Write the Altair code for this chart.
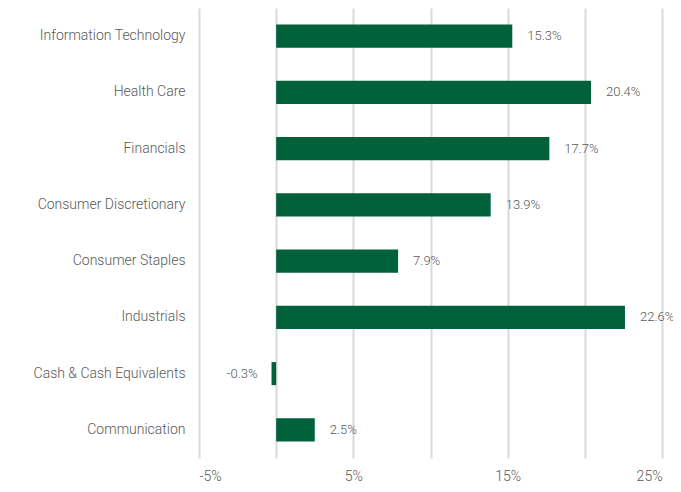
import altair as alt
import pandas as pd

sectors = [
    "Information Technology",
    "Health Care",
    "Financials",
    "Consumer Discretionary",
    "Consumer Staples",
    "Industrials",
    "Cash & Cash Equivalents",
    "Communication",
]
values = [15.3, 20.4, 17.7, 13.9, 7.9, 22.6, -0.3, 2.5]
labels = ["15.3%", "20.4%", "17.7%", "13.9%", "7.9%", "22.6%", "-0.3%", "2.5%"]

df = pd.DataFrame({"sector": sectors, "value": values, "label": labels})

FONT = "Roboto"
GRAY = "#595959"

x = alt.X(
    "value:Q",
    scale=alt.Scale(domain=[-5, 25], nice=False),
    axis=alt.Axis(
        values=[-5, 0, 5, 10, 15, 20, 25],
        labelExpr="(datum.value % 10 == 0) ? '' : datum.value + '%'",
        title=None,
        domain=False,
        ticks=False,
        grid=True,
        gridColor="#d9d9d9",
        gridWidth=2,
        labelFont=FONT,
        labelFontSize=14,
        labelFontWeight=300,
        labelColor=GRAY,
        labelPadding=11,
    ),
)
y = alt.Y(
    "sector:N",
    sort=sectors,
    scale=alt.Scale(paddingInner=0.59, paddingOuter=0.295),
    axis=alt.Axis(
        title=None,
        domain=False,
        ticks=False,
        grid=False,
        labelFont=FONT,
        labelFontSize=14,
        labelFontWeight=300,
        labelColor=GRAY,
        labelPadding=14,
        labelLimit=300,
    ),
)

bars = alt.Chart(df).mark_bar(color="#00613a").encode(x=x, y=y, x2=alt.datum(0))

pos = alt.Chart(df).transform_filter("datum.value >= 0").mark_text(
    align="left", dx=15, font=FONT, fontSize=13, fontWeight=300, color=GRAY
).encode(x="value:Q", y=alt.Y("sector:N", sort=sectors), text="label:N")

neg = alt.Chart(df).transform_filter("datum.value < 0").mark_text(
    align="right", dx=-14, font=FONT, fontSize=13, fontWeight=300, color=GRAY
).encode(x="value:Q", y=alt.Y("sector:N", sort=sectors), text="label:N")

chart = (
    alt.layer(bars, pos, neg)
    .properties(
        width=463,
        height=450,
        autosize=alt.AutoSizeParams(type="none"),
        padding={"left": 191, "top": 0, "right": 11, "bottom": 26},
    )
    .configure_view(stroke=None)
)

chart.save("out.html", embed_options={"renderer": "svg", "actions": False})
